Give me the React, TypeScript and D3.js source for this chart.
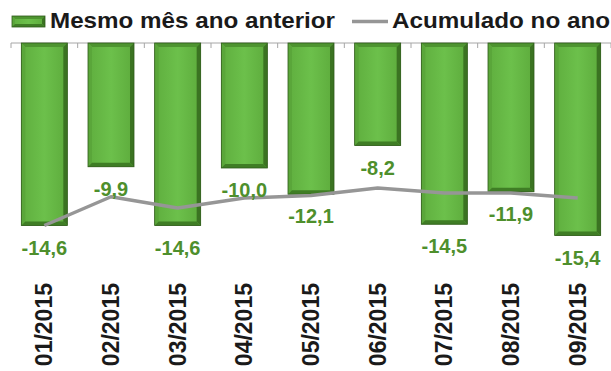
import React from "react";
import * as d3 from "d3";

const months = ["01/2015", "02/2015", "03/2015", "04/2015", "05/2015", "06/2015", "07/2015", "08/2015", "09/2015"];
const sameMonth = [-14.6, -9.9, -14.6, -10.0, -12.1, -8.2, -14.5, -11.9, -15.4];
const accumulated = [-14.6, -12.3, -13.2, -12.4, -12.2, -11.6, -12.0, -12.0, -12.4];
const legendLabels = ["Mesmo mês ano anterior", "Acumulado no ano"];

const W = 611;
const H = 371;
const FONT = "'Liberation Sans', Arial, sans-serif";

export default function App() {
  const x = d3.scaleBand<string>().domain(months).range([11, 611]).paddingInner(0.31).paddingOuter(0.155);
  const y = d3.scaleLinear().domain([0, -16]).range([43, 243]);
  const line = d3
    .line<number>()
    .x((_, i) => (x(months[i]) as number) + x.bandwidth() / 2)
    .y((d) => y(d));
  const fmt = (v: number) => v.toFixed(1).replace(".", ",");
  const bw = x.bandwidth();

  const bevelBar = (x0: number, y0: number, w: number, h: number, key: string, b = 4) => {
    const x1 = x0 + w;
    const y1 = y0 + h;
    return (
      <g key={key}>
        <rect x={x0} y={y0} width={w} height={h} fill="url(#barGrad)" />
        <polygon points={`${x0},${y0} ${x1},${y0} ${x1 - b},${y0 + b} ${x0 + b},${y0 + b}`} fill="#4e9430" />
        <polygon points={`${x0},${y0} ${x0 + b},${y0 + b} ${x0 + b},${y1 - b} ${x0},${y1}`} fill="#5aa63a" />
        <polygon points={`${x1},${y0} ${x1},${y1} ${x1 - b},${y1 - b} ${x1 - b},${y0 + b}`} fill="#3b7322" />
        <polygon points={`${x0},${y1} ${x1},${y1} ${x1 - b},${y1 - b} ${x0 + b},${y1 - b}`} fill="#3f7d25" />
        <rect x={x0} y={y0} width={w} height={h} fill="none" stroke="#2f5a1a" strokeWidth={0.8} />
      </g>
    );
  };

  return (
    <svg
      width={W}
      height={H}
      style={{ position: "absolute", left: 0, top: 0, background: "#fff" }}
      fontFamily={FONT}
    >
      <defs>
        <linearGradient id="barGrad" x1="0" y1="0" x2="1" y2="0">
          <stop offset="0" stopColor="#5fae3e" />
          <stop offset="0.5" stopColor="#6cc04b" />
          <stop offset="1" stopColor="#5dab3c" />
        </linearGradient>
      </defs>

      {/* axis line and ticks */}
      <line x1={11} x2={611} y1={43} y2={43} stroke="#a6a6a6" strokeWidth={1} />
      {d3.range(months.length + 1).map((i) => {
        const xx = 11 + i * x.step();
        return <line key={"t" + i} x1={xx} x2={xx} y1={43} y2={48} stroke="#a6a6a6" strokeWidth={1} />;
      })}

      {/* bars */}
      {months.map((m, i) => bevelBar(x(m) as number, y(0), bw, y(sameMonth[i]) - y(0), "b" + i))}

      {/* accumulated line */}
      <path d={line(accumulated) as string} fill="none" stroke="#969696" strokeWidth={3.5} strokeLinejoin="round" />

      {/* value labels */}
      {months.map((m, i) => (
        <text
          key={"l" + i}
          x={(x(m) as number) + bw / 2}
          y={y(sameMonth[i]) + 29}
          textAnchor="middle"
          fontSize={20}
          fontWeight="bold"
          fill="#4e8f2c"
        >
          {fmt(sameMonth[i])}
        </text>
      ))}

      {/* x labels */}
      {months.map((m, i) => (
        <text
          key={"x" + i}
          transform={`translate(${(x(m) as number) + bw / 2 + 8},283) rotate(-90)`}
          textAnchor="end"
          fontSize={23}
          fontWeight="bold"
          fill="#1a1a1a"
        >
          {m}
        </text>
      ))}

      {/* legend */}
      {bevelBar(12, 16, 33, 11, "legbar", 3)}
      <text
        x={50}
        y={28}
        fontSize={21.5}
        fontWeight="bold"
        fill="#1a1a1a"
        textLength={285}
        lengthAdjust="spacingAndGlyphs"
      >
        {legendLabels[0]}
      </text>
      <line x1={352} x2={388} y1={21.5} y2={21.5} stroke="#969696" strokeWidth={3.5} />
      <text
        x={392}
        y={28}
        fontSize={21.5}
        fontWeight="bold"
        fill="#1a1a1a"
        textLength={218}
        lengthAdjust="spacingAndGlyphs"
      >
        {legendLabels[1]}
      </text>
    </svg>
  );
}
